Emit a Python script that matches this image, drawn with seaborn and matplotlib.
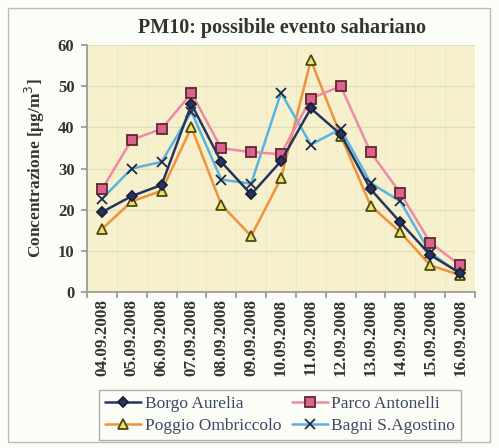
import matplotlib
matplotlib.use("Agg")
import matplotlib.pyplot as plt
import seaborn as sns
import pandas as pd
from matplotlib.patches import Rectangle

dates = ["04.09.2008", "05.09.2008", "06.09.2008", "07.09.2008", "08.09.2008",
         "09.09.2008", "10.09.2008", "11.09.2008", "12.09.2008", "13.09.2008",
         "14.09.2008", "15.09.2008", "16.09.2008"]

borgo_aurelia = [19.4, 23.3, 26.0, 45.6, 31.6, 23.7, 31.8, 44.6, 38.3, 25.0, 16.9, 9.0, 4.6]
parco_antonelli = [24.9, 37.0, 39.6, 48.3, 34.9, 34.0, 33.5, 47.0, 50.0, 34.0, 24.0, 12.0, 6.5]
poggio_ombriccolo = [15.3, 22.0, 24.6, 40.0, 21.2, 13.6, 27.6, 56.3, 38.0, 21.0, 14.5, 6.5, 4.1]
bagni_sagostino = [22.6, 30.0, 31.6, 43.8, 27.3, 26.3, 48.4, 35.8, 39.6, 26.5, 22.0, 9.5, 4.4]

series = {
    "Borgo Aurelia": borgo_aurelia,
    "Parco Antonelli": parco_antonelli,
    "Poggio Ombriccolo": poggio_ombriccolo,
    "Bagni S.Agostino": bagni_sagostino,
}

styles = {
    "Borgo Aurelia": dict(color="#27355e", marker="D", mfc="#27355e", mec="#1a1f35", ms=5.5),
    "Parco Antonelli": dict(color="#ec8aa8", marker="s", mfc="#e0608e", mec="#5a2a30", ms=7),
    "Poggio Ombriccolo": dict(color="#f0923a", marker="^", mfc="#eee070", mec="#4a4a10", ms=7),
    "Bagni S.Agostino": dict(color="#5ab4e2", marker="x", mfc="none", mec="#1f2a4a", ms=7),
}

rows = []
for name, vals in series.items():
    for i, (d, v) in enumerate(zip(dates, vals)):
        rows.append({"Data": d, "idx": i, "Stazione": name, "PM10": v})
df = pd.DataFrame(rows)

sns.set_theme(style="white")
serif = ["Liberation Serif", "DejaVu Serif"]
plt.rcParams["font.family"] = serif

fig = plt.figure(figsize=(4.99, 4.48), dpi=100)
fig.patch.set_facecolor("#fdfdf8")
ax = fig.add_axes([87 / 499, 1 - 292 / 448, (475 - 87) / 499, (292 - 45) / 448])
ax.set_facecolor("#f6f1cc")

draw_order = ["Poggio Ombriccolo", "Bagni S.Agostino", "Parco Antonelli", "Borgo Aurelia"]
handles = {}
for name in draw_order:
    sub = df[df["Stazione"] == name]
    st = styles[name]
    sns.lineplot(data=sub, x="idx", y="PM10", ax=ax, color=st["color"], lw=1.8,
                 legend=False, zorder=3)
    line = ax.lines[-1]
    line.set_marker(st["marker"])
    line.set_markerfacecolor(st["mfc"])
    line.set_markeredgecolor(st["mec"])
    line.set_markersize(st["ms"])
    line.set_markeredgewidth(1.3)
    handles[name] = line

text_col = "#333333"
ax.set_xlim(-0.5, len(dates) - 0.5)
ax.set_ylim(0, 60)
ax.set_yticks(range(0, 61, 10))
ax.set_xticks([i - 0.5 for i in range(len(dates) + 1)], minor=False)
ax.set_xticklabels([])
ax.set_xticks(range(len(dates)), minor=True)
ax.set_xticklabels(dates, minor=True, rotation=90, fontsize=12.3, fontweight="bold",
                   color=text_col, family=serif)
ax.tick_params(axis="x", which="minor", length=0, pad=5)
ax.tick_params(axis="x", which="major", length=4, color="#999999", direction="out", bottom=True)
ax.tick_params(axis="y", length=4, color="#999999", direction="out", left=True,
               labelsize=12, labelcolor=text_col, pad=5)
for lab in ax.get_yticklabels():
    lab.set_fontweight("bold")
    lab.set_family(serif)
ax.grid(axis="y", color="#e0dcc0", lw=0.8)
ax.grid(axis="x", which="major", color="#ece7c8", lw=0.6)
for s in ["top", "right"]:
    ax.spines[s].set_visible(False)
ax.spines["left"].set_color("#999999")
ax.spines["bottom"].set_color("#999999")
ax.set_xlabel("")
ax.set_ylabel("Concentrazione [μg/m$^3$]", fontsize=12.5, fontweight="bold",
              color=text_col, labelpad=8, family=serif)

fig.text(282 / 499, 1 - 28 / 448, "PM10: possibile evento sahariano", ha="center",
         va="center", fontsize=14.5, fontweight="bold", color=text_col, family=serif)

# two columns filled column by column: row 1 Borgo / Parco, row 2 Poggio / Bagni
legend_order = ["Borgo Aurelia", "Poggio Ombriccolo", "Parco Antonelli", "Bagni S.Agostino"]
leg = fig.legend([handles[n] for n in legend_order], legend_order, ncol=2,
                 loc="center", bbox_to_anchor=(280 / 499, 1 - 415 / 448),
                 frameon=True, fancybox=False,
                 prop={"family": serif, "size": 12.5},
                 handlelength=2.1, handletextpad=0.2, columnspacing=0.6,
                 borderpad=0.35, labelspacing=0.35, borderaxespad=0)
leg.get_frame().set_edgecolor("#999999")
leg.get_frame().set_facecolor("#fdfdf8")
for t in leg.get_texts():
    t.set_color("#3d4866")

fig.patches.append(Rectangle((8 / 499, 1 - 442 / 448), 482 / 499, 434 / 448,
                             transform=fig.transFigure, fill=False,
                             edgecolor="#bbbbbb", lw=1))

fig.savefig("out.png", dpi=100, facecolor=fig.get_facecolor())
